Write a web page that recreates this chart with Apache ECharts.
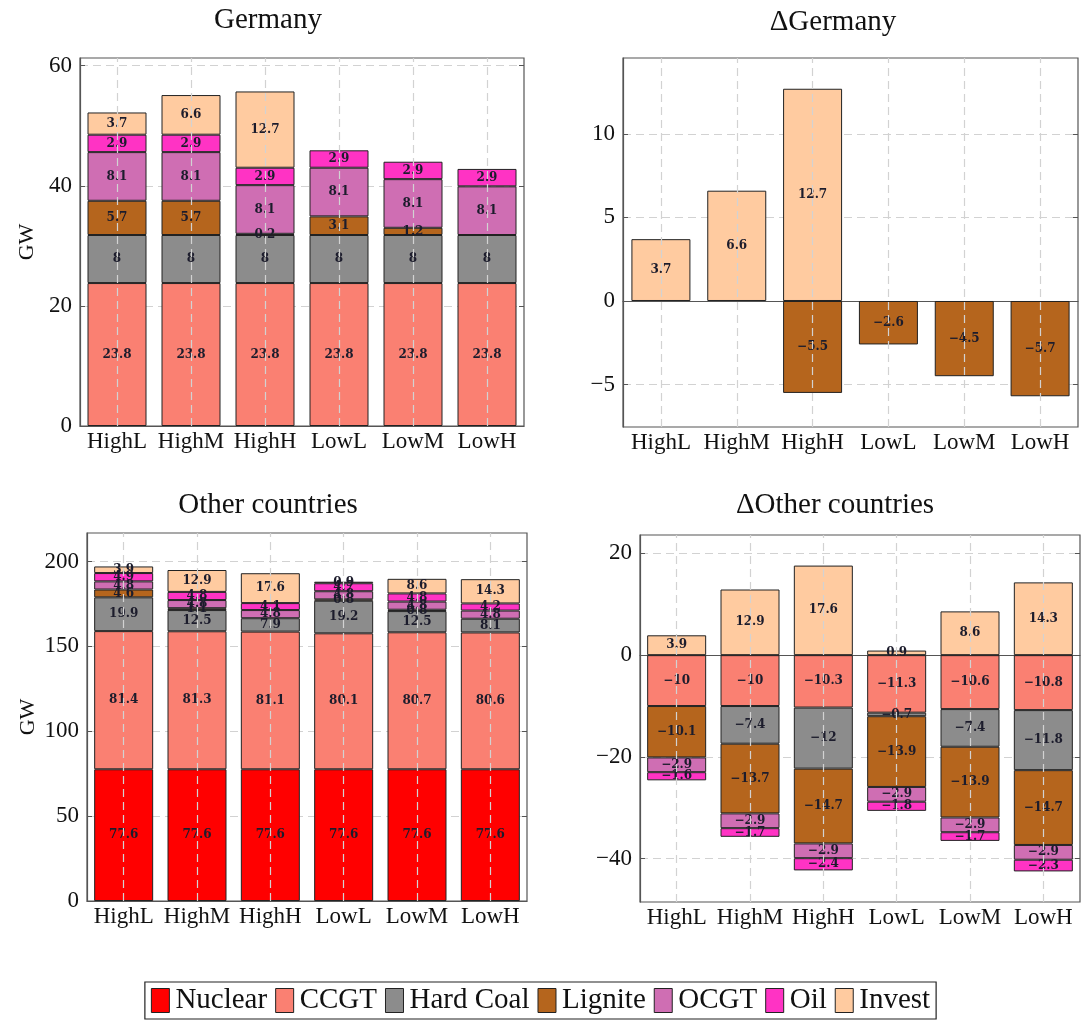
<!DOCTYPE html>
<html>
<head>
<meta charset="utf-8">
<script src="https://cdn.jsdelivr.net/npm/echarts@6/dist/echarts.min.js"></script>
<style>html,body{margin:0;padding:0;background:#fff}#c{width:1081px;height:1024px}</style>
</head>
<body>
<div id="c"></div>
<script>
// ---------- data ----------
const categories = ['HighL', 'HighM', 'HighH', 'LowL', 'LowM', 'LowH'];
const techs = ['Nuclear', 'CCGT', 'Hard Coal', 'Lignite', 'OCGT', 'Oil', 'Invest'];

// Germany (GW)
const deNuclear  = [0, 0, 0, 0, 0, 0];
const deCCGT     = [23.8, 23.8, 23.8, 23.8, 23.8, 23.8];
const deHardCoal = [8, 8, 8, 8, 8, 8];
const deLignite  = [5.7, 5.7, 0.2, 3.1, 1.2, 0];
const deOCGT     = [8.1, 8.1, 8.1, 8.1, 8.1, 8.1];
const deOil      = [2.9, 2.9, 2.9, 2.9, 2.9, 2.9];
const deInvest   = [3.7, 6.6, 12.7, 0, 0, 0];

// Delta Germany
const ddeNuclear  = [0, 0, 0, 0, 0, 0];
const ddeCCGT     = [0, 0, 0, 0, 0, 0];
const ddeHardCoal = [0, 0, 0, 0, 0, 0];
const ddeLignite  = [0, 0, -5.5, -2.6, -4.5, -5.7];
const ddeOCGT     = [0, 0, 0, 0, 0, 0];
const ddeOil      = [0, 0, 0, 0, 0, 0];
const ddeInvest   = [3.7, 6.6, 12.7, 0, 0, 0];

// Other countries (GW)
const ocNuclear  = [77.6, 77.6, 77.6, 77.6, 77.6, 77.6];
const ocCCGT     = [81.4, 81.3, 81.1, 80.1, 80.7, 80.6];
const ocHardCoal = [19.9, 12.5, 7.9, 19.2, 12.5, 8.1];
const ocLignite  = [4.6, 1.1, 0, 0.8, 0.8, 0];
const ocOCGT     = [4.8, 4.8, 4.8, 4.8, 4.8, 4.8];
const ocOil      = [4.9, 4.8, 4.1, 4.7, 4.8, 4.2];
const ocInvest   = [3.9, 12.9, 17.6, 0.9, 8.6, 14.3];

// Delta other countries
const docNuclear  = [0, 0, 0, 0, 0, 0];
const docCCGT     = [-10, -10, -10.3, -11.3, -10.6, -10.8];
const docHardCoal = [0, -7.4, -12, -0.7, -7.4, -11.8];
const docLignite  = [-10.1, -13.7, -14.7, -13.9, -13.9, -14.7];
const docOCGT     = [-2.9, -2.9, -2.9, -2.9, -2.9, -2.9];
const docOil      = [-1.6, -1.7, -2.4, -1.8, -1.7, -2.3];
const docInvest   = [3.9, 12.9, 17.6, 0.9, 8.6, 14.3];

// axis ticks
const deTicks  = [0, 20, 40, 60];
const ddeTicks = [-5, 0, 5, 10];
const ocTicks  = [0, 50, 100, 150, 200];
const docTicks = [-40, -20, 0, 20];

const titles = ['Germany', '\u0394Germany', 'Other countries', '\u0394Other countries'];

// ---------- style ----------
const colors = ['#FF0000', '#FA8072', '#8C8C8C', '#B5651D', '#CF6EB3', '#FF33C4', '#FFCBA0'];
const SERIF = '"Liberation Serif", "DejaVu Serif", serif';

const panels = [
  { data: [deNuclear, deCCGT, deHardCoal, deLignite, deOCGT, deOil, deInvest], ticks: deTicks, min: 0, max: 61.27,
    grid: { left: 80, top: 58, width: 444, height: 368 }, gw: 42, title: [268, 6] },
  { data: [ddeNuclear, ddeCCGT, ddeHardCoal, ddeLignite, ddeOCGT, ddeOil, ddeInvest], ticks: ddeTicks, min: -7.54, max: 14.54,
    grid: { left: 623, top: 58, width: 455, height: 369 }, gw: 0, title: [833, 8] },
  { data: [ocNuclear, ocCCGT, ocHardCoal, ocLignite, ocOCGT, ocOil, ocInvest], ticks: ocTicks, min: 0, max: 216.8,
    grid: { left: 87, top: 533, width: 440, height: 368 }, gw: 48, title: [268, 491] },
  { data: [docNuclear, docCCGT, docHardCoal, docLignite, docOCGT, docOil, docInvest], ticks: docTicks, min: -48.51, max: 23.61,
    grid: { left: 640, top: 535, width: 440, height: 367 }, gw: 0, title: [835, 491] }
];

function fmt(v) {
  const s = String(Math.round(Math.abs(v) * 10) / 10);
  return v < 0 ? '\u2212' + s : s;
}

const grids = [], xAxes = [], yAxes = [], series = [], graphics = [];
panels.forEach((p, i) => {
  grids.push(Object.assign({ show: true, borderColor: '#555', borderWidth: 1.2, backgroundColor: 'transparent' }, p.grid));
  xAxes.push({
    type: 'category', gridIndex: i, data: categories,
    axisLine: { show: true, lineStyle: { color: '#555', width: 1.2 } },
    axisTick: { show: false },
    axisLabel: { interval: 0, color: '#111', fontFamily: SERIF, fontSize: 23, margin: 4 },
    splitLine: { show: false }
  });
  yAxes.push({
    type: 'value', gridIndex: i, min: p.min, max: p.max,
    name: p.gw ? 'GW' : '', nameLocation: 'middle', nameGap: p.gw, nameRotate: 90,
    nameTextStyle: { color: '#111', fontFamily: SERIF, fontSize: 22 },
    axisLine: { show: true, lineStyle: { color: '#555', width: 1.2 } },
    axisTick: { show: true, inside: true, length: 5, customValues: p.ticks, lineStyle: { color: '#555' } },
    axisLabel: { color: '#111', fontFamily: SERIF, fontSize: 23, margin: 8, customValues: p.ticks,
                 formatter: v => fmt(v) },
    splitLine: { show: true, lineStyle: { color: '#d2d2d2', type: [8, 5], width: 1.2 } }
  });
  // mirror ticks on right side
  yAxes.push({
    type: 'value', gridIndex: i, min: p.min, max: p.max, position: 'right',
    axisLine: { show: false },
    axisTick: { show: true, inside: true, length: 5, customValues: p.ticks, lineStyle: { color: '#555' } },
    axisLabel: { show: false, customValues: p.ticks },
    splitLine: { show: false }
  });
  // vertical dashed grid lines at category centres
  series.push({
    type: 'line', name: '_grid' + i, xAxisIndex: i, yAxisIndex: 2 * i, data: categories.map(() => null),
    z: 1, silent: true, symbol: 'none',
    markLine: {
      silent: true, symbol: ['none', 'none'], animation: false, label: { show: false },
      lineStyle: { color: '#d2d2d2', type: [8, 5], width: 1.2 },
      data: categories.map(c => ({ xAxis: c }))
    }
  });
  p.data.forEach((arr, k) => {
    series.push({
      type: 'bar', name: techs[k], xAxisIndex: i, yAxisIndex: 2 * i, stack: 'st' + i, z: 3,
      barWidth: 59,
      data: arr.map(v => (v === 0 ? '-' : v)),
      itemStyle: { color: colors[k], borderColor: '#222', borderWidth: 1 },
      label: {
        show: true, position: 'inside', color: '#1c1c2c',
        fontFamily: '"DejaVu Serif", serif', fontWeight: 'bold', fontSize: 12,
        formatter: q => fmt(q.value)
      },
      emphasis: { disabled: true },
      animation: false
    });
  });
  graphics.push({
    type: 'text', x: p.title[0], y: p.title[1],
    style: { text: titles[i], fill: '#111', font: '29px ' + SERIF, textAlign: 'center' }
  });
});

const chart = echarts.init(document.getElementById('c'), null, { renderer: 'canvas' });
chart.setOption({
  animation: false,
  backgroundColor: '#fff',
  grid: grids,
  xAxis: xAxes,
  yAxis: yAxes,
  series: series,
  graphic: graphics,
  legend: {
    data: techs, left: 'center', top: 982, orient: 'horizontal',
    icon: 'rect', itemWidth: 18, itemHeight: 24, itemGap: 8,
    padding: [4, 6, 4, 6], borderColor: '#222', borderWidth: 1.2,
    textStyle: { color: '#111', fontFamily: SERIF, fontSize: 29, padding: [0, 0, 0, 1] },
    itemStyle: { borderColor: '#222', borderWidth: 1 }
  }
});
</script>
</body>
</html>
